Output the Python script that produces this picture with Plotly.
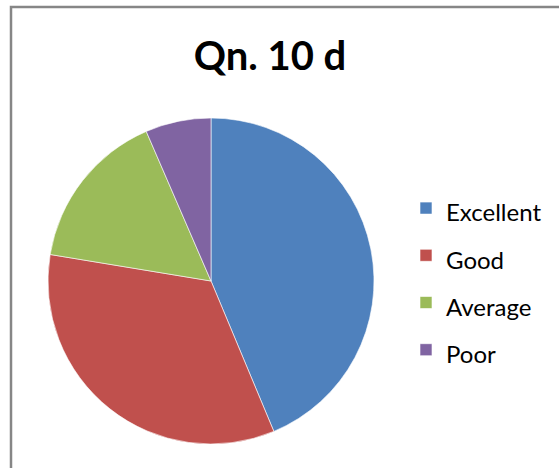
import plotly.graph_objects as go

labels = ["Excellent", "Good", "Average", "Poor"]
values = [43.7, 33.9, 15.9, 6.5]
colors = ["#4F81BD", "#C0504D", "#9BBB59", "#8064A2"]

W, H = 559, 468

fig = go.Figure(go.Pie(
    labels=[f'<span style="font-size:24px">{l}</span>' for l in labels],
    values=values,
    sort=False,
    direction="clockwise",
    rotation=0,
    textinfo="none",
    marker=dict(colors=colors, line=dict(color="white", width=0.6)),
    domain=dict(x=[48 / W, 374 / W], y=[1 - 444 / H, 1 - 118 / H]),
))

fig.update_layout(
    width=W, height=H,
    margin=dict(l=0, r=0, t=0, b=0),
    paper_bgcolor="white",
    title=dict(text="<b>Qn. 10 d</b>", x=270 / W, xanchor="center",
               y=1 - 56 / H, yanchor="middle",
               font=dict(family="Lato", size=40, color="black")),
    legend=dict(x=406 / W, xanchor="left", y=1 - 279 / H, yanchor="middle",
                font=dict(family="Lato", size=34, color="black"),
                bgcolor="rgba(0,0,0,0)"),
    shapes=[dict(type="rect", xref="paper", yref="paper",
                 x0=11 / W, x1=1.2, y0=-0.2, y1=1 - 7 / H,
                 line=dict(color="#868686", width=2.5))],
)

fig.write_html("out.html", config={"displayModeBar": False},
               post_script="document.body.style.margin='0';")
